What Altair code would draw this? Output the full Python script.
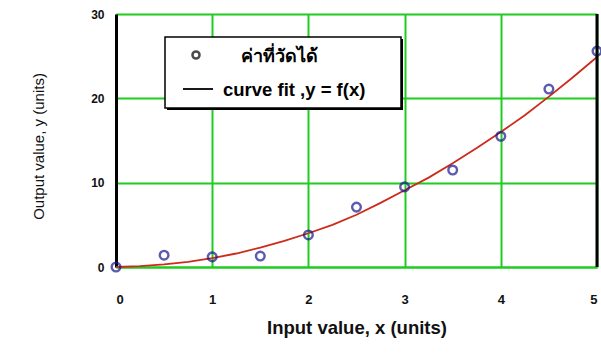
import altair as alt
import pandas as pd

# Measured points
x_meas = [0, 0.5, 1, 1.5, 2, 2.5, 3, 3.5, 4, 4.5, 5]
y_meas = [0, 1.4, 1.2, 1.3, 3.8, 7.1, 9.5, 11.5, 15.5, 21.1, 25.6]

# Fitted curve y = f(x)
x_fit = [0, 0.25, 0.5, 0.75, 1, 1.25, 1.5, 1.75, 2, 2.25, 2.5, 2.75, 3,
         3.25, 3.5, 3.75, 4, 4.25, 4.5, 4.75, 5]
y_fit = [0, 0.1, 0.3, 0.6, 1.05, 1.6, 2.3, 3.1, 4.0, 5.0, 6.2, 7.6, 9.1,
         10.6, 12.3, 14.1, 16.0, 18.0, 20.2, 22.5, 24.9]

x_ticks = [0, 1, 2, 3, 4, 5]
y_ticks = [0, 10, 20, 30]

legend_labels = ["ค่าที่วัดได้", "curve fit ,y = f(x)"]

W, H = 481, 253
FONT = "Liberation Sans"
GREEN = "#1fcc1f"

meas = pd.DataFrame({"x": x_meas, "y": y_meas})
fit = pd.DataFrame({"x": x_fit, "y": y_fit})

xs = alt.Scale(domain=[0, 5], nice=False, zero=False)
ys = alt.Scale(domain=[0, 30], nice=False)

x_axis = alt.Axis(values=x_ticks, title="Input value, x (units)", grid=True,
                  gridColor=GREEN, gridWidth=2, domainColor=GREEN, domainWidth=2,
                  ticks=False, labelPadding=26, labelFont=FONT, labelFontSize=13,
                  labelFontWeight="bold", labelColor="#111", titleFont=FONT,
                  titleFontSize=18.5, titleFontWeight="bold", titleColor="#111",
                  titlePadding=12, format="d")
y_axis = alt.Axis(values=y_ticks, title="Output value, y (units)", grid=True,
                  gridColor=GREEN, gridWidth=2, domainColor="#000", domainWidth=3,
                  ticks=False, labelPadding=12, labelFont=FONT, labelFontSize=12,
                  labelFontWeight="bold", labelColor="#111", titleFont=FONT,
                  titleFontSize=15, titleFontWeight="normal", titleColor="#111",
                  titlePadding=44, titleY=132, format="d")

curve = alt.Chart(fit).mark_line(color="#cc2a1a", strokeWidth=1.8).encode(
    x=alt.X("x:Q", scale=xs, axis=x_axis),
    y=alt.Y("y:Q", scale=ys, axis=y_axis),
)

points = alt.Chart(meas).mark_point(shape="circle", filled=False, color="#16168e",
                                    strokeWidth=2.4, size=75).encode(
    x=alt.X("x:Q", scale=xs),
    y=alt.Y("y:Q", scale=ys),
)

# Right-hand frame edge
right_edge = alt.Chart(pd.DataFrame({"x": [5]})).mark_rule(color="#000", strokeWidth=3).encode(
    x=alt.X("x:Q", scale=xs)
)

# Legend box with a small drop shadow
box_shadow = alt.Chart().mark_rect(fill="#000").encode(
    x=alt.value(51), x2=alt.value(287), y=alt.value(25), y2=alt.value(96))
box = alt.Chart().mark_rect(fill="white", stroke="#000", strokeWidth=1.5).encode(
    x=alt.value(49), x2=alt.value(285), y=alt.value(23), y2=alt.value(94))
leg_sym = alt.Chart().mark_point(shape="circle", filled=False, color="#000",
                                  strokeWidth=2.5, size=50).encode(
    x=alt.value(80), y=alt.value(41))
leg_line = alt.Chart().mark_rule(color="#000", strokeWidth=1.8).encode(
    x=alt.value(67), x2=alt.value(97), y=alt.value(75))
leg_t1 = alt.Chart().mark_text(align="left", baseline="alphabetic", font="Noto Sans",
                               fontSize=18, fontWeight="bold", color="#000",
                               text=legend_labels[0]).encode(
    x=alt.value(125), y=alt.value(48))
leg_t2 = alt.Chart().mark_text(align="left", baseline="alphabetic", font=FONT,
                               fontSize=18.5, fontWeight="bold", color="#000",
                               text=legend_labels[1]).encode(
    x=alt.value(107), y=alt.value(82))

chart = alt.layer(
    curve, points, right_edge, box_shadow, box, leg_sym, leg_line, leg_t1, leg_t2
).properties(
    width=W, height=H,
    autosize=alt.AutoSizeParams(type="none"),
    padding={"left": 116, "top": 14, "right": 4, "bottom": 91},
    background="white",
).configure_view(stroke=None)

chart.save("out.html", embed_options={"renderer": "svg", "actions": False})
